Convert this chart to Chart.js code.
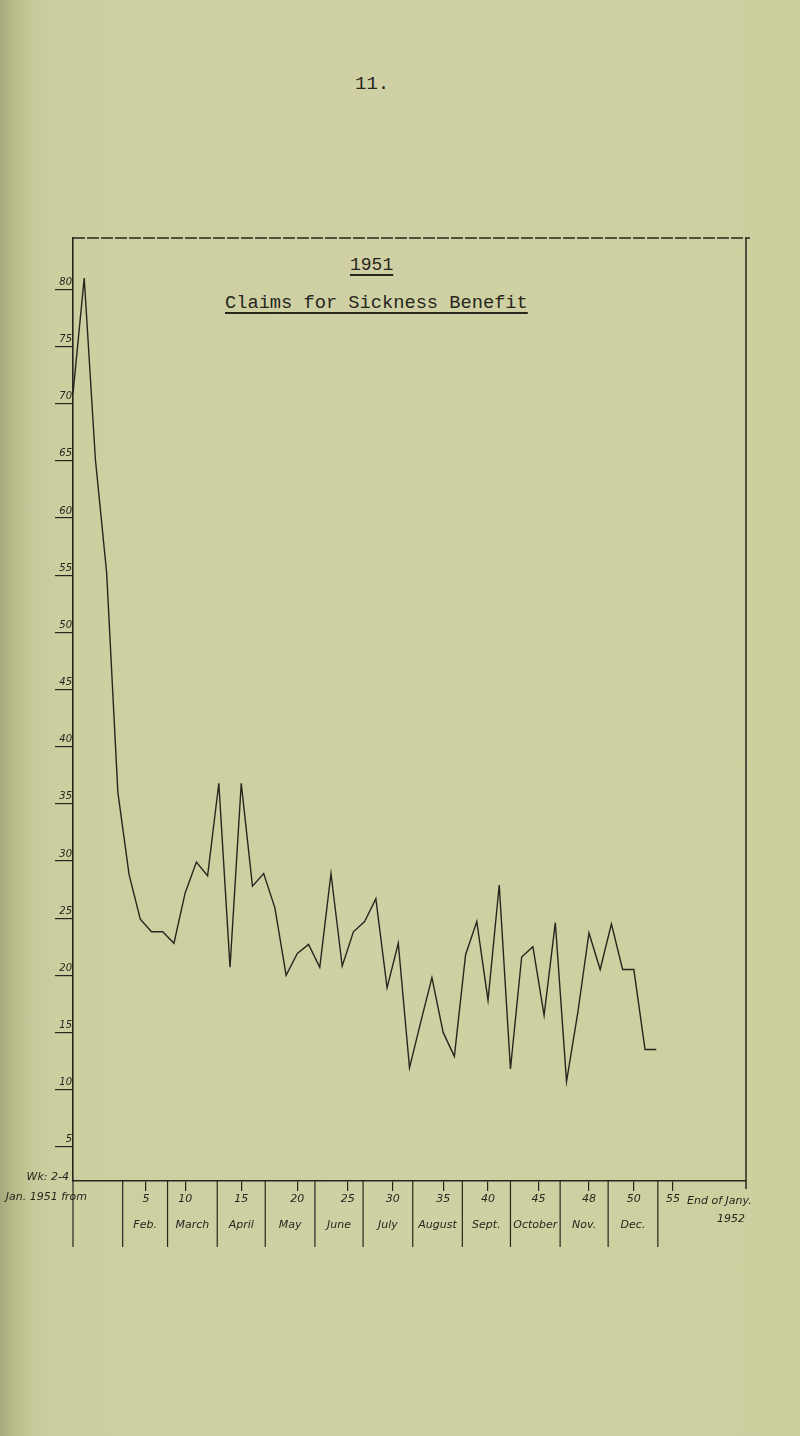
<!DOCTYPE html>
<html><head><meta charset="utf-8">
<script src="https://cdn.jsdelivr.net/npm/chart.js@4/dist/chart.umd.min.js"></script>
<style>
html,body{margin:0;padding:0;}
body{width:800px;height:1436px;position:relative;overflow:hidden;
 background:linear-gradient(to right,#a4a97a 0px,#b8bc8a 14px,#c7ca9a 34px,#cdcfa1 60px,#cfd1a4 400px,#cdcf9f 800px);}
#wrap{position:absolute;left:0;top:0;width:800px;height:1436px;}
.tw{position:absolute;font-family:"Liberation Mono","DejaVu Sans Mono",monospace;color:#26261e;white-space:nowrap;line-height:1;}
.ul{text-decoration:underline;text-decoration-thickness:2px;text-underline-offset:4px;}
</style></head><body>
<div class="tw" style="left:355px;top:75px;font-size:19px;">11.</div>
<div class="tw ul" style="left:350px;top:256px;font-size:18px;">1951</div>
<div class="tw ul" style="left:225px;top:294px;font-size:18.7px;">Claims for Sickness Benefit</div>
<div id="wrap"><canvas id="c" width="800" height="1436"></canvas></div>
<script>
// week numbers (0 = start of January 1951)
const weeks = [0,1,2,3,4,5,6,7,8,9,10,11,12,13,14,15,16,17,18,19,20,21,22,23,24,25,26,27,28,29,30,31,32,33,34,35,36,37,38,39,40,41,42,43,44,45,46,47,48,49,50,51,52];
// claims
const claims = [70.9,81.0,65.1,55.2,36.0,28.8,24.9,23.8,23.8,22.8,27.2,29.9,28.7,36.8,20.7,36.8,27.8,28.9,25.9,20.0,21.9,22.7,20.7,28.9,20.8,23.8,24.7,26.7,18.9,22.8,11.9,15.9,19.8,15.0,12.9,21.8,24.7,17.8,27.9,11.8,21.6,22.5,16.5,24.6,10.7,16.7,23.7,20.5,24.5,20.5,20.5,13.5,13.5];
const yTickValues = [5,10,15,20,25,30,35,40,45,50,55,60,65,70,75,80];
// x labels: tick position (weeks), number written under the tick
const xTickWeeks = [6.5,10,15,20,24.5,28.5,33,37,41.5,46,50,53.5];
const xTickNumbers = ['5','10','15','20','25','30','35','40','45','48','50','55'];
const monthNames = ['Feb.','March','April','May','June','July','August','Sept.','October','Nov.','Dec.'];
// month boundaries in weeks (1 Feb, 1 Mar, ... 1 Jan 1952, 1 Feb 1952)
const cellEdges = [4.43,8.43,12.86,17.14,21.57,25.86,30.29,34.71,39.0,43.43,47.71,52.14,56.57];
const lastCellText = ['End of Jany.','1952'];
const leftCellText = ['Wk: 2-4','Jan. 1951 from'];

const ink = '#26261e';
const handFont = 'italic 11px "DejaVu Sans", sans-serif';

const boxPlugin = {
  id:'box',
  afterDraw(chart){
    const {ctx, chartArea:a, scales:{x}} = chart;
    const rowH = 66;
    ctx.save();
    ctx.strokeStyle = ink;
    ctx.lineWidth = 1.3;
    ctx.setLineDash([12,2]);
    ctx.beginPath(); ctx.moveTo(a.left, a.top); ctx.lineTo(a.right+4, a.top); ctx.stroke();
    ctx.setLineDash([]);
    ctx.lineWidth = 1.5;
    ctx.beginPath(); ctx.moveTo(a.right, a.top); ctx.lineTo(a.right, a.bottom+8); ctx.stroke();
    ctx.lineWidth = 1.2;
    cellEdges.slice(0,-1).forEach(w=>{
      const px = x.getPixelForValue(w);
      ctx.beginPath(); ctx.moveTo(px, a.bottom); ctx.lineTo(px, a.bottom+rowH); ctx.stroke();
    });
    ctx.beginPath(); ctx.moveTo(a.left, a.bottom); ctx.lineTo(a.left, a.bottom+rowH); ctx.stroke();
    ctx.fillStyle = ink;
    ctx.font = handFont;
    ctx.textBaseline = 'middle';
    ctx.textAlign = 'center';
    monthNames.forEach((m,i)=>{
      const l = x.getPixelForValue(cellEdges[i]);
      const r = x.getPixelForValue(cellEdges[i+1]);
      ctx.fillText(m,(l+r)/2,a.bottom+44);
    });
    // last cell: text beside the number, running past the frame
    ctx.textAlign = 'left';
    const lt = x.getPixelForValue(xTickWeeks[xTickWeeks.length-1]);
    ctx.fillText(lastCellText[0], lt+14, a.bottom+20);
    ctx.fillText(lastCellText[1], lt+44, a.bottom+38);
    // left cell
    ctx.textAlign = 'right';
    ctx.fillText(leftCellText[0], a.left-4, a.bottom-4);
    ctx.fillText(leftCellText[1], a.left+14, a.bottom+16);
    ctx.restore();
  }
};

new Chart(document.getElementById('c'), {
  type:'line',
  data:{datasets:[{
    data: weeks.map((w,i)=>({x:w,y:claims[i]})),
    borderColor: ink, borderWidth:1.4, pointRadius:0, tension:0, fill:false
  }]},
  options:{
    responsive:false, animation:false, devicePixelRatio:1,
    layout:{padding:{left:33,right:54,top:238,bottom:165}},
    plugins:{legend:{display:false},tooltip:{enabled:false},title:{display:false}},
    scales:{
      x:{type:'linear',min:0,max:60,
        afterBuildTicks(ax){ax.ticks = xTickWeeks.map(v=>({value:v}));},
        afterFit(ax){ax.height = 90;},
        grid:{drawOnChartArea:false,drawTicks:true,tickLength:10,color:ink,lineWidth:1.2},
        border:{display:true,color:ink,width:1.5},
        ticks:{autoSkip:false,maxRotation:0,color:ink,font:{family:'"DejaVu Sans", sans-serif',style:'italic',size:11},padding:2,
          callback(v){const i=xTickWeeks.indexOf(v);return i<0?'':xTickNumbers[i];}}
      },
      y:{min:2,max:84.5,
        afterBuildTicks(ax){ax.ticks = yTickValues.map(v=>({value:v}));},
        afterFit(ax){ax.width = 40;},
        grid:{drawOnChartArea:false,drawTicks:true,tickLength:18,color:ink,lineWidth:1.2},
        border:{display:true,color:ink,width:1.6},
        ticks:{color:ink,padding:-17,labelOffset:-7,font:{family:'"DejaVu Sans", sans-serif',style:'italic',size:10}}
      }
    }
  },
  plugins:[boxPlugin]
});
</script>
</body></html>
